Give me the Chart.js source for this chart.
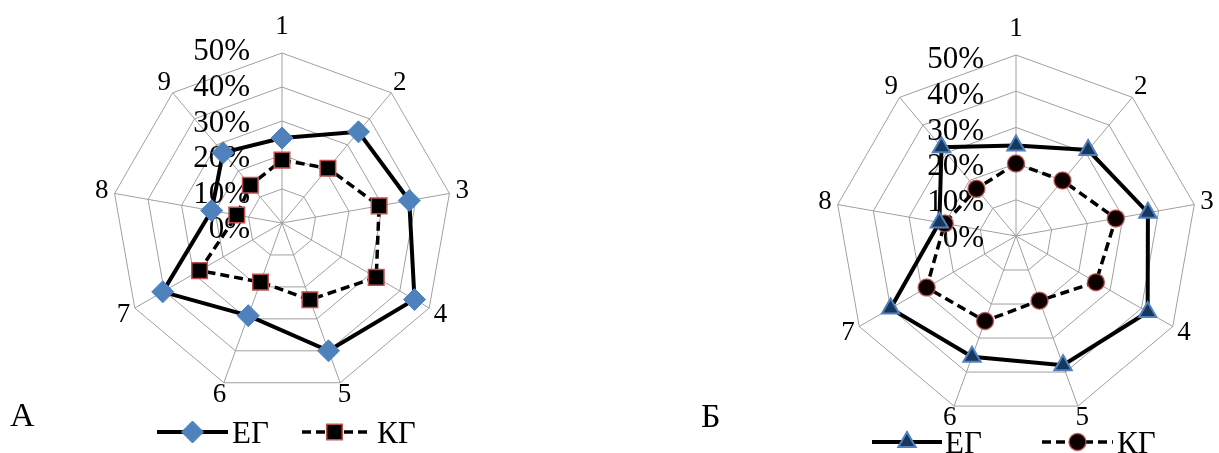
<!DOCTYPE html>
<html>
<head>
<meta charset="utf-8">
<script src="https://cdn.jsdelivr.net/npm/chart.js@4.4.0/dist/chart.umd.min.js"></script>
<style>
  body { margin: 0; background: #fff; width: 1219px; height: 453px; overflow: hidden; position: relative; font-family: 'Liberation Serif', serif; }
  canvas { position: absolute; top: 0; }
  #chartA { left: 0; }
  #chartB { left: 600px; }
  .tag { position: absolute; font-size: 34px; line-height: 34px; color: #000; }
</style>
</head>
<body>
<canvas id="chartA" width="600" height="453"></canvas>
<canvas id="chartB" width="619" height="453"></canvas>
<div class="tag" style="left:10px;top:398px">А</div>
<div class="tag" style="left:701px;top:399px">Б</div>

<script>
// axis numbers and tick values
const axisLabels = ['1', '2', '3', '4', '5', '6', '7', '8', '9'];
const tickValues = [0, 10, 20, 30, 40, 50];
const seriesNames = ['ЕГ', 'КГ'];

// chart А
const egA = [25, 35, 38, 45, 40, 29, 40.5, 21, 27];
const kgA = [18.5, 21, 29, 32, 24, 18.5, 28, 13.5, 14.5];

// chart Б
const egB = [25, 31, 37, 42, 38, 35.5, 40, 21.5, 32];
const kgB = [20, 20, 28, 25.5, 19, 25, 28.5, 20, 17];

const FONT = '"Liberation Serif", "Times New Roman", serif';

// ticks + axis numbers + legend, all drawn from the chart's own scale
const radarText = {
  id: 'radarText',
  beforeDatasetsDraw(chart, args, opts) {
    const r = chart.scales.r;
    const ctx = chart.ctx;
    ctx.save();
    ctx.fillStyle = '#000';
    ctx.font = '31px ' + FONT;
    ctx.textAlign = 'right';
    ctx.textBaseline = 'middle';
    // excel spreads the tick text a little wider than the rings
    tickValues.forEach(v => {
      const y = r.yCenter - r.getDistanceFromCenterForValue(v) * opts.tickSpread + opts.tickShift;
      ctx.fillText(v + '%', r.xCenter - 32, y);
    });

    ctx.font = '27px ' + FONT;
    ctx.textAlign = 'center';
    chart.data.labels.forEach((lab, i) => {
      const p = r.getPointPosition(i, r.drawingArea + (i === 0 ? 26 : 13));
      ctx.fillText(lab, p.x, p.y);
    });
    ctx.restore();
  },
  afterDraw(chart, args, opts) {
    const ctx = chart.ctx;
    const lg = opts.legend;
    chart.data.datasets.forEach((ds, i) => {
      const it = lg.items[i];
      ctx.save();
      ctx.strokeStyle = ds.borderColor;
      ctx.lineWidth = ds.borderWidth;
      ctx.setLineDash(ds.borderDash || []);
      ctx.beginPath();
      ctx.moveTo(it.x0, lg.y);
      ctx.lineTo(it.x1, lg.y);
      ctx.stroke();
      ctx.setLineDash([]);
      ctx.fillStyle = ds.pointBackgroundColor;
      ctx.strokeStyle = ds.pointBorderColor;
      ctx.lineWidth = ds.pointBorderWidth;
      Chart.helpers.drawPoint(ctx, {
        pointStyle: ds.pointStyle,
        radius: ds.pointRadius,
        borderWidth: ds.pointBorderWidth,
        rotation: 0
      }, (it.x0 + it.x1) / 2, lg.y);
      ctx.fillStyle = '#000';
      ctx.font = '31px ' + FONT;
      ctx.textAlign = 'left';
      ctx.textBaseline = 'alphabetic';
      ctx.fillText(ds.label, it.xText, lg.baseline);
      ctx.restore();
    });
  }
};

function makeRadar(id, eg, kg, egStyle, kgStyle, padding, textOpts) {
  const ctx = document.getElementById(id).getContext('2d');
  return new Chart(ctx, {
    type: 'radar',
    data: {
      labels: axisLabels,
      datasets: [
        Object.assign({
          label: seriesNames[0],
          data: eg,
          borderColor: '#000',
          borderWidth: 4,
          fill: false,
          tension: 0
        }, egStyle),
        Object.assign({
          label: seriesNames[1],
          data: kg,
          borderColor: '#000',
          borderWidth: 3.5,
          borderDash: [9, 5],
          fill: false,
          tension: 0
        }, kgStyle)
      ]
    },
    options: {
      responsive: false,
      devicePixelRatio: 1,
      animation: false,
      layout: { padding: padding },
      plugins: {
        legend: { display: false },
        tooltip: { enabled: false },
        radarText: textOpts
      },
      scales: {
        r: {
          min: 0,
          max: 50,
          ticks: { display: false, stepSize: 10 },
          grid: { color: '#a0a0a0', lineWidth: 1 },
          angleLines: { color: '#a0a0a0', lineWidth: 1 },
          pointLabels: { display: false }
        }
      }
    },
    plugins: [radarText]
  });
}

makeRadar('chartA', egA, kgA,
  { pointStyle: 'rectRot', pointRadius: 11, pointBackgroundColor: '#4f81bd', pointBorderColor: '#4f81bd', pointBorderWidth: 1 },
  { pointStyle: 'rect', pointRadius: 11, pointBackgroundColor: '#000', pointBorderColor: '#c0504d', pointBorderWidth: 1.5 },
  { left: 112, right: 148, top: 53, bottom: 60 },
  {
    tickShift: 7,
    tickSpread: 1.045,
    legend: {
      y: 432, baseline: 443,
      items: [{ x0: 157, x1: 228, xText: 232 }, { x0: 302, x1: 367, xText: 377 }]
    }
  });

makeRadar('chartB', egB, kgB,
  { pointStyle: 'triangle', pointRadius: 10, pointBackgroundColor: '#17375e', pointBorderColor: '#4f81bd', pointBorderWidth: 2 },
  { pointStyle: 'circle', pointRadius: 8.5, pointBackgroundColor: '#0d0000', pointBorderColor: 'rgba(192,80,77,0.8)', pointBorderWidth: 1.5 },
  { left: 235, right: 22, top: 55, bottom: 36 },
  {
    tickShift: 3,
    tickSpread: 0.99,
    legend: {
      y: 442, baseline: 453,
      items: [{ x0: 272, x1: 342, xText: 345 }, { x0: 442, x1: 513, xText: 517 }]
    }
  });
</script>
</body>
</html>
